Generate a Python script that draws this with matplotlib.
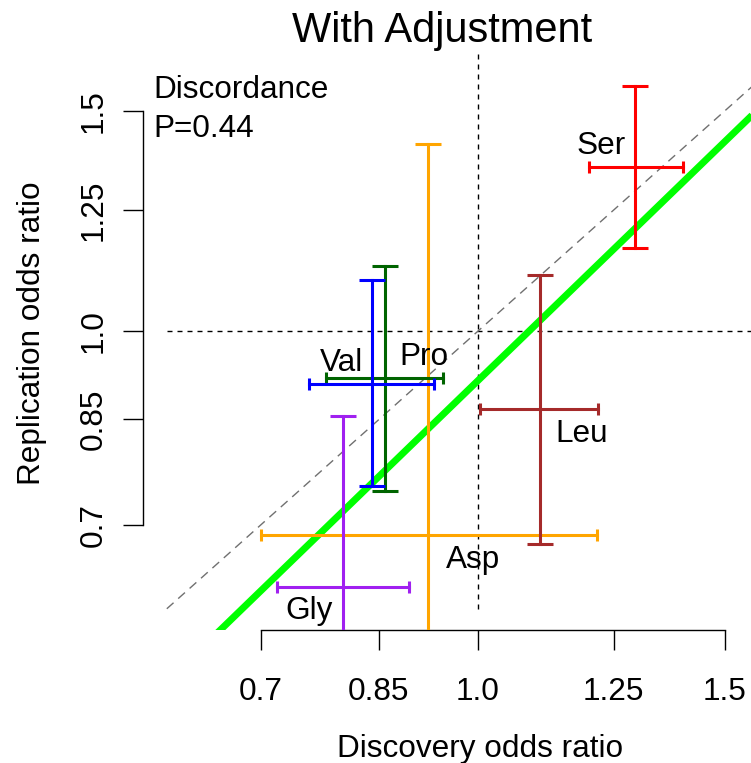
import matplotlib
matplotlib.use("Agg")
import matplotlib.pyplot as plt
import numpy as np

plt.rcParams['font.family'] = ['Liberation Sans', 'DejaVu Sans']
plt.rcParams['lines.scale_dashes'] = False

# amino acids, drawn in alphabetical order
labels = ['Asp', 'Gly', 'Leu', 'Pro', 'Ser', 'Val']
colors = ['#FFA500', '#A020F0', '#A52A2A', '#006400', '#FF0000', '#0000FF']

disc_or = [0.922, 0.801, 1.107, 0.858, 1.295, 0.840]
disc_lo = [0.700, 0.719, 1.003, 0.779, 1.200, 0.758]
disc_hi = [1.215, 0.893, 1.218, 0.945, 1.400, 0.930]

rep_or = [0.687, 0.625, 0.866, 0.917, 1.353, 0.908]
rep_lo = [0.520, 0.500, 0.676, 0.745, 1.166, 0.752]
rep_hi = [1.412, 0.855, 1.109, 1.128, 1.571, 1.098]

# fitted line on log scale: log(rep) = a + b * log(disc)
fit_a = -0.091
fit_b = 1.085

tick_vals = [0.7, 0.85, 1.0, 1.25, 1.5]
tick_labels = ['0.7', '0.85', '1.0', '1.25', '1.5']
lims = (0.577, 1.664)
ref_range = [0.6, 1.6]

# label offsets in points (dx, dy)
label_offsets = {'Asp': (31.9, -23.5), 'Gly': (-24.4, -23.2), 'Leu': (30.2, -23.5),
                 'Pro': (28.6, 9.6), 'Ser': (-25.0, 9.6), 'Val': (-22.1, 9.3)}

W, H = 751, 763
fig = plt.figure(figsize=(W / 100, H / 100), dpi=100)
ax = fig.add_axes([143 / W, (H - 630) / H, 645.1 / W, 575.6 / H])
ax.set_xscale('log')
ax.set_yscale('log')
ax.set_xlim(*lims)
ax.set_ylim(*lims)

# reference lines
ax.plot([1, 1], [ref_range[0], lims[1]], color='black', lw=1.0, dashes=(3.6, 3.6), zorder=1)
ax.plot([ref_range[0], lims[1]], [1, 1], color='black', lw=1.0, dashes=(3.6, 3.6), zorder=1)
ax.plot(ref_range, ref_range, color='#707070', lw=1.0, dashes=(6.5, 4.5), zorder=1)

# regression line across the whole plot
xs = np.array(lims)
ax.plot(xs, np.exp(fit_a + fit_b * np.log(xs)), color='#00FF00', lw=5, zorder=2,
        solid_capstyle='butt')

for i, lab in enumerate(labels):
    c = colors[i]
    ax.plot([disc_or[i]] * 2, [rep_lo[i], rep_hi[i]], color=c, lw=2.2, zorder=3)
    ax.plot([disc_or[i]] * 2, [rep_lo[i], rep_hi[i]], ls='none', marker='_',
            ms=18.4, mew=2.2, color=c, zorder=3)
    ax.plot([disc_lo[i], disc_hi[i]], [rep_or[i]] * 2, color=c, lw=2.2, zorder=3)
    ax.plot([disc_lo[i], disc_hi[i]], [rep_or[i]] * 2, ls='none', marker='|',
            ms=8.6, mew=2.2, color=c, zorder=3)
    ax.annotate(lab, (disc_or[i], rep_or[i]), xytext=label_offsets[lab],
                textcoords='offset points', ha='center', va='baseline',
                fontsize=22.7, zorder=4)

# axes styled like base R
for s in ['top', 'right']:
    ax.spines[s].set_visible(False)
ax.spines['left'].set_bounds(0.7, 1.5)
ax.spines['bottom'].set_bounds(0.7, 1.5)
ax.spines['left'].set_linewidth(1.0)
ax.spines['bottom'].set_linewidth(1.0)

ax.xaxis.set_minor_locator(matplotlib.ticker.NullLocator())
ax.yaxis.set_minor_locator(matplotlib.ticker.NullLocator())
ax.set_xticks(tick_vals)
ax.set_xticklabels(tick_labels, fontsize=22.7)
ax.set_yticks(tick_vals)
ax.set_yticklabels(tick_labels, fontsize=22.7, rotation=90, va='center')
ax.tick_params(axis='x', length=14.4, width=1.0, pad=19.4)
ax.tick_params(axis='y', length=14.4, width=1.0, pad=10.5)

fig.text(442.5 / W, 1 - 42 / H, 'With Adjustment', ha='center', va='baseline', fontsize=30)
fig.text(480 / W, 1 - 757 / H, 'Discovery odds ratio', ha='center', va='baseline', fontsize=22.7)
fig.text(32 / W, 1 - 333 / H, 'Replication odds ratio', ha='center', va='center',
         rotation=90, fontsize=22.7)
fig.text(153 / W, 1 - 98 / H, 'Discordance', ha='left', va='baseline', fontsize=22.7)
fig.text(153 / W, 1 - 137 / H, 'P=0.44', ha='left', va='baseline', fontsize=22.7)

fig.savefig('out.png', dpi=100, facecolor='white')
